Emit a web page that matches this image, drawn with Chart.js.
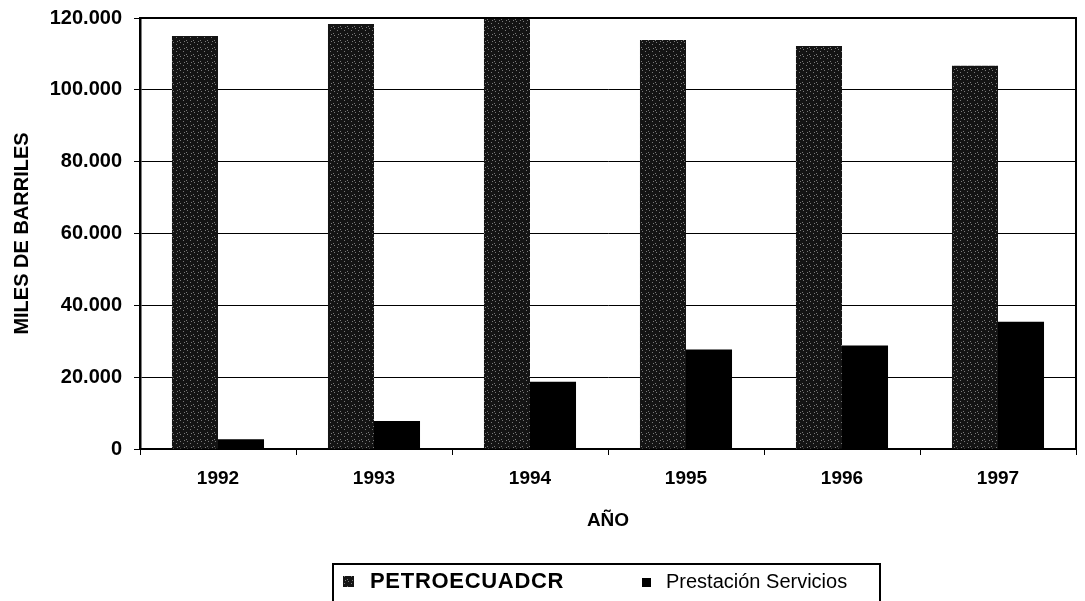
<!DOCTYPE html>
<html lang="es">
<head>
<meta charset="UTF-8">
<title>Producción por año</title>
<style>
  html,body{margin:0;padding:0;background:#fff}
  #wrap{width:1085px;height:601px}
</style>
<script src="https://cdn.jsdelivr.net/npm/chart.js"></script>
</head>
<body>
<div id="wrap"><canvas id="barChart"></canvas></div>
<script>
  const years        = ['1992','1993','1994','1995','1996','1997'];
  const petroecuador = [115000,118300,120000,113900,112200,106700];
  const prestacion   = [2700,7800,18700,27700,28800,35400];
  const seriesNames  = ['PETROECUADCR','Prestación Servicios'];

  const FONT = '"Liberation Sans", Arial, sans-serif';

  // dark speckled fill like the scanned bars
  function speckle(){
    const c = document.createElement('canvas');
    c.width = c.height = 7;
    const g = c.getContext('2d');
    g.fillStyle = '#141414'; g.fillRect(0,0,7,7);
    g.fillStyle = '#7a7a7a';
    [[1,2],[4,5],[5,0],[2,6]].forEach(p => g.fillRect(p[0],p[1],1,1));
    return g.createPattern(c,'repeat');
  }

  const fmt = v => String(v).replace(/\B(?=(\d{3})+(?!\d))/g,'.');

  // plot frame + boxed legend under the plot
  const frame = {
    id:'frame',
    afterDraw(chart){
      const ctx = chart.ctx, a = chart.chartArea;
      const cx = (a.left + a.right)/2, top = a.bottom + 115;
      const ds = chart.data.datasets;
      ctx.save();
      ctx.strokeStyle = '#000';
      ctx.lineWidth = 2;
      ctx.beginPath();
      ctx.moveTo(a.left, a.top); ctx.lineTo(a.right, a.top); ctx.lineTo(a.right, a.bottom);
      ctx.stroke();

      ctx.beginPath();
      ctx.moveTo(cx-275, chart.height); ctx.lineTo(cx-275, top);
      ctx.lineTo(cx+272, top); ctx.lineTo(cx+272, chart.height);
      ctx.stroke();

      ctx.textBaseline = 'middle';
      ctx.fillStyle = ds[0].backgroundColor;
      ctx.fillRect(cx-265, top+12, 11, 11);
      ctx.fillStyle = '#000';
      ctx.font = 'bold 22px ' + FONT;
      if ('letterSpacing' in ctx) ctx.letterSpacing = '0.7px';
      ctx.fillText(ds[0].label, cx-238, top+18);

      ctx.fillStyle = ds[1].backgroundColor;
      ctx.fillRect(cx+34, top+14, 9, 9);
      ctx.fillStyle = '#000';
      ctx.font = '20px ' + FONT;
      if ('letterSpacing' in ctx) ctx.letterSpacing = '0px';
      ctx.fillText(ds[1].label, cx+58, top+18);
      ctx.restore();
    }
  };

  const dark = speckle();

  new Chart(document.getElementById('barChart'), {
    type:'bar',
    data:{
      labels: years,
      datasets:[
        { label: seriesNames[0], data: petroecuador, backgroundColor: dark, borderWidth:0 },
        { label: seriesNames[1], data: prestacion, backgroundColor: '#000', borderWidth:0 }
      ]
    },
    options:{
      responsive:true, maintainAspectRatio:false, animation:false,
      layout:{ padding:{ top:0, right:9, left:0, bottom:0 } },
      datasets:{ bar:{ categoryPercentage:0.59, barPercentage:1.0 } },
      scales:{
        x:{
          grid:{ offset:true, drawOnChartArea:false, color:'#000', tickLength:6 },
          border:{ color:'#000', width:2 },
          ticks:{ color:'#000', font:{ family:FONT, size:19, weight:'bold' }, padding:12 },
          title:{ display:true, text:'AÑO', color:'#000', font:{ family:FONT, size:19, weight:'bold' }, padding:{ top:0, bottom:69 } },
          afterFit(s){ s.height = 152; }
        },
        y:{
          min:0, max:120000,
          ticks:{ stepSize:20000, callback: v => fmt(v), color:'#000', font:{ family:FONT, size:20, weight:'bold' }, padding:12 },
          grid:{ color:'#000', lineWidth:1, tickLength:6 },
          border:{ color:'#000', width:2.5 },
          title:{ display:true, text:'MILES DE BARRILES', color:'#000', font:{ family:FONT, size:20, weight:'bold' }, padding:{ top:10, bottom:0 } },
          afterFit(s){ s.width = 140; s.paddingTop = 18; }
        }
      },
      plugins:{
        legend:{ display:false },
        tooltip:{ enabled:false }
      }
    },
    plugins:[frame]
  });
</script>
</body>
</html>
